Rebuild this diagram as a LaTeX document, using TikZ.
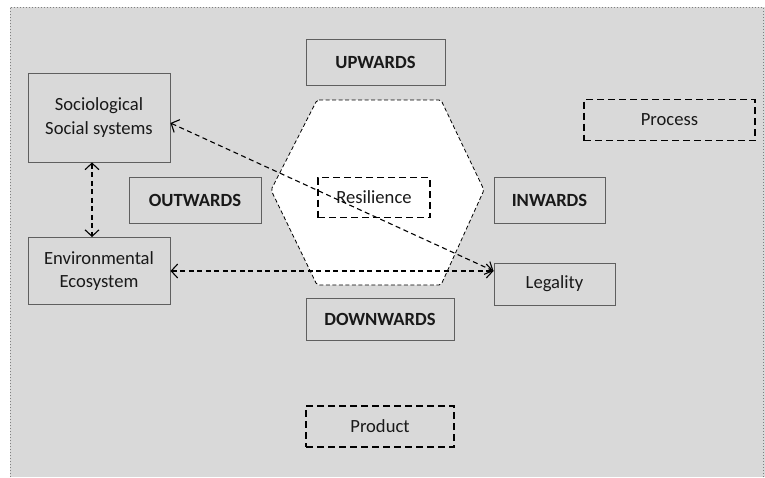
\documentclass[tikz,border=0pt]{standalone}
\usepackage{fontspec}
\setmainfont{Carlito}
\usetikzlibrary{arrows.meta}
\definecolor{bggray}{RGB}{217,217,217}
\definecolor{boxline}{RGB}{95,95,95}
\definecolor{txt}{RGB}{25,25,25}

\begin{document}
\begin{tikzpicture}
        [x=1pt, y=-1pt, font=\fontsize{18.6}{23.5}\selectfont, text=txt,
        box/.style={draw=boxline, line width=0.9pt, inner sep=0pt, align=center},
        dirbox/.style={box, font=\fontsize{18.6}{23.5}\selectfont\bfseries},
        dashbox/.style={draw=black, line width=1.8pt, dash pattern=on 7pt off 4pt, inner sep=0pt},
        link/.style={black, line width=1.1pt, dash pattern=on 5pt off 3.5pt, {Straight Barb[length=6.5pt,width=14pt,line width=1.1pt]}-{Straight Barb[length=6.5pt,width=14pt,line width=1.1pt]}},
        hexa/.style={fill=white, draw=black, line width=0.8pt, dash pattern=on 4pt off 2.5pt, rounded corners=2pt}]

        \useasboundingbox (0,0) rectangle (765,477);

        % background panel
        \fill[bggray] (10,7) rectangle (765,477);
        \draw[gray, dotted, line width=1pt] (10,477) -- (10,7) -- (763,7) -- (763,477);

        % hexagon round the core
        \draw[hexa] (317,100) -- (441,100) -- (484,190) -- (441,285) -- (317,285) -- (271,190) -- cycle;

        \node[box, minimum width=142pt, minimum height=89pt] (soc) at (99,117.5) {Sociological\\Social systems};
        \node[box, minimum width=142pt, minimum height=67pt] (env) at (99,271) {Environmental\\Ecosystem};
        \node[dirbox, minimum width=132pt, minimum height=46pt] (out) at (195,200.5) {OUTWARDS};
        \node[dirbox, minimum width=139pt, minimum height=46pt] (up) at (375.5,62) {UPWARDS};
        \node[dirbox, minimum width=111pt, minimum height=46pt] (in) at (549.5,200.5) {INWARDS};
        \node[dirbox, minimum width=148pt, minimum height=42pt] (down) at (380,319) {DOWNWARDS};
        \node[box, minimum width=121pt, minimum height=42pt] (leg) at (554.5,284) {Legality};

        \node[dashbox, minimum width=112pt, minimum height=40pt] (res) at (374,197.5) {Resilience};
        \node[dashbox, minimum width=171pt, minimum height=41pt] (proc) at (669.5,120) {Process};
        \node[dashbox, minimum width=148pt, minimum height=41pt] (prod) at (380,426.5) {Product};

        % links
        \draw[link] ([xshift=-7pt]soc.south) -- ([xshift=-7pt]env.north);
        \draw[link] (env.east) -- (env.east -| leg.west);
        \draw[link] ([yshift=-5.5pt]soc.east) -- (env.east -| leg.west);

\end{tikzpicture}
\end{document}
